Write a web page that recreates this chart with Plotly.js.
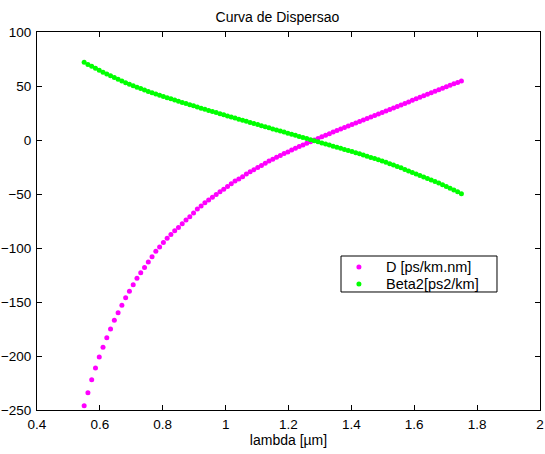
<!DOCTYPE html>
<html>
<head>
<meta charset="utf-8">
<script src="https://cdn.plot.ly/plotly-3.0.1.min.js"></script>
<style>html,body{margin:0;padding:0;background:#fff;}#chart{width:545px;height:454px;}</style>
</head>
<body>
<div id="chart"></div>
<script>
var lambda = [
0.550,0.562,0.574,0.586,0.598,0.610,0.622,0.634,0.646,0.658,
0.670,0.682,0.694,0.706,0.718,0.730,0.742,0.754,0.766,0.778,
0.790,0.802,0.814,0.826,0.838,0.850,0.862,0.874,0.886,0.898,
0.910,0.922,0.934,0.946,0.958,0.970,0.982,0.994,1.006,1.018,
1.030,1.042,1.054,1.066,1.078,1.090,1.102,1.114,1.126,1.138,
1.150,1.162,1.174,1.186,1.198,1.210,1.222,1.234,1.246,1.258,
1.270,1.282,1.294,1.306,1.318,1.330,1.342,1.354,1.366,1.378,
1.390,1.402,1.414,1.426,1.438,1.450,1.462,1.474,1.486,1.498,
1.510,1.522,1.534,1.546,1.558,1.570,1.582,1.594,1.606,1.618,
1.630,1.642,1.654,1.666,1.678,1.690,1.702,1.714,1.726,1.738,
1.750];

var D = [
-246,-234,-222,-211,-201,-192,-183,-175,-167,-160,
-153,-146,-140,-134,-128,-123,-118,-113,-108,-103,
-99,-95,-91,-87.5,-84,-81,-77.5,-74,-71,-67.5,
-64,-61,-58,-55.5,-53,-50.5,-48,-45.5,-43,-40.5,
-38,-36,-34,-31.5,-29.5,-27.5,-25.5,-23.5,-21.5,-19.5,
-17.8,-16,-14.3,-12.6,-11,-9.3,-7.7,-6.1,-4.6,-3.1,
-1.6,0,1.5,3.0,4.5,5.9,7.3,8.7,10.1,11.5,
12.9,14.3,15.7,17.1,18.5,19.9,21.3,22.7,24.1,25.5,
26.9,28.3,29.7,31.1,32.5,33.9,35.3,36.7,38.1,39.5,
40.9,42.3,43.7,45.1,46.5,47.9,49.3,50.7,52.0,53.3,
54.6];

var beta2 = [
72.0,70.0,68.2,66.4,64.6,62.8,61.1,59.4,57.8,56.2,
54.6,53.1,51.7,50.3,48.9,47.6,46.3,45.0,43.8,42.6,
41.4,40.3,39.2,38.1,37.0,35.9,34.8,33.7,32.7,31.6,
30.6,29.5,28.5,27.4,26.4,25.4,24.3,23.3,22.3,21.3,
20.3,19.3,18.3,17.3,16.3,15.3,14.3,13.3,12.3,11.3,
10.3,9.3,8.3,7.3,6.3,5.3,4.3,3.3,2.3,1.3,
0.3,-0.7,-1.7,-2.7,-3.7,-4.7,-5.7,-6.7,-7.7,-8.7,
-9.7,-10.7,-11.7,-12.8,-13.9,-15.0,-16.1,-17.2,-18.3,-19.4,
-20.6,-21.9,-23.2,-24.5,-25.8,-27.2,-28.6,-30.0,-31.4,-32.8,
-34.2,-35.6,-37.0,-38.4,-39.8,-41.4,-43.0,-44.6,-46.3,-48.0,
-49.8];

var seriesNames = ['D [ps/km.nm]', 'Beta2[ps2/km]'];
var seriesColors = ['#ff00ff', '#00ff00'];
var xTicks = [0.4,0.6,0.8,1,1.2,1.4,1.6,1.8,2];
var xTickText = ['0.4','0.6','0.8','1','1.2','1.4','1.6','1.8','2'];
var yTicks = [-250,-200,-150,-100,-50,0,50,100];

var fontFam = '"Liberation Sans", Arial, sans-serif';

var traces = [
  {x: lambda, y: D, name: seriesNames[0], type: 'scatter', mode: 'markers',
   marker: {color: seriesColors[0], size: 5}, showlegend: false},
  {x: lambda, y: beta2, name: seriesNames[1], type: 'scatter', mode: 'markers',
   marker: {color: seriesColors[1], size: 5}, showlegend: false}
];

var axisCommon = {
  showline: true, linecolor: '#000', linewidth: 1, mirror: 'ticks',
  ticks: 'inside', ticklen: 5, tickcolor: '#000', tickwidth: 1,
  showgrid: false, zeroline: false,
  tickfont: {family: fontFam, size: 13.5, color: '#000'}
};

// legend box (MATLAB-style) in paper coordinates
var legBox = {x0: 0.6044, x1: 0.9145, y0: 0.3122, y1: 0.4074};
var legRowsY = [0.3783, 0.3333];
var legDotX = 0.640, legTextX = 0.690;

var shapes = [{type: 'rect', xref: 'paper', yref: 'paper',
  x0: legBox.x0, x1: legBox.x1, y0: legBox.y0, y1: legBox.y1,
  line: {color: '#000', width: 1}, fillcolor: '#fff', layer: 'above'}];
var annotations = [];
seriesNames.forEach(function (nm, i) {
  shapes.push({type: 'circle', xref: 'paper', yref: 'paper',
    xsizemode: 'pixel', ysizemode: 'pixel', xanchor: legDotX, yanchor: legRowsY[i],
    x0: -2.5, x1: 2.5, y0: -2.5, y1: 2.5,
    fillcolor: seriesColors[i], line: {width: 0}, layer: 'above'});
  annotations.push({xref: 'paper', yref: 'paper', x: legTextX, y: legRowsY[i],
    xanchor: 'left', yanchor: 'middle', showarrow: false, text: nm,
    font: {family: fontFam, size: 14.5, color: '#000'}});
});

var layout = {
  width: 545, height: 454,
  margin: {l: 37, r: 5, t: 32, b: 44},
  paper_bgcolor: '#fff', plot_bgcolor: '#fff',
  font: {family: fontFam, size: 13, color: '#000'},
  title: {text: 'Curva de Dispersao', x: 0.509, xanchor: 'center', y: 0.963, yanchor: 'middle',
          font: {family: fontFam, size: 14, color: '#000'}},
  xaxis: Object.assign({}, axisCommon, {
    range: [0.4, 2], tickvals: xTicks, ticktext: xTickText, ticklabelstandoff: 2,
    title: {text: 'lambda [µm]', standoff: 3, font: {family: fontFam, size: 14, color: '#000'}}
  }),
  yaxis: Object.assign({}, axisCommon, {
    range: [-250, 100], tickvals: yTicks, ticklabelstandoff: 2
  }),
  showlegend: false,
  shapes: shapes,
  annotations: annotations
};

Plotly.newPlot('chart', traces, layout, {displayModeBar: false, staticPlot: true});
</script>
</body>
</html>
